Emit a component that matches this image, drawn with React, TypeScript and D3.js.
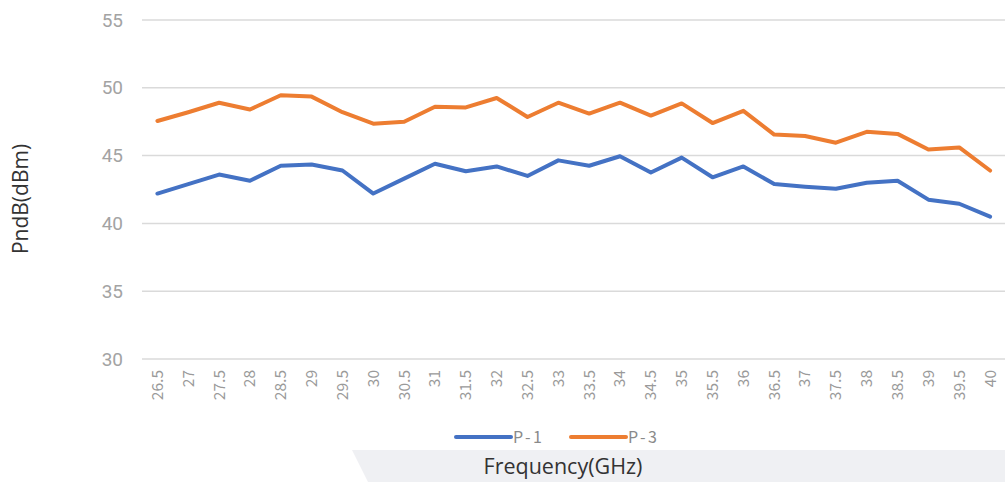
import React from "react";
import * as d3 from "d3";

const frequencies: string[] = [
  "26.5", "27", "27.5", "28", "28.5", "29", "29.5", "30", "30.5", "31",
  "31.5", "32", "32.5", "33", "33.5", "34", "34.5", "35", "35.5", "36",
  "36.5", "37", "37.5", "38", "38.5", "39", "39.5", "40",
];

const p1Values: number[] = [
  42.2, 42.9, 43.6, 43.15, 44.25, 44.35, 43.9, 42.2, 43.3, 44.4,
  43.85, 44.2, 43.5, 44.65, 44.25, 44.95, 43.75, 44.85, 43.4, 44.2,
  42.9, 42.7, 42.55, 43.0, 43.15, 41.75, 41.45, 40.5,
];

const p3Values: number[] = [
  47.55, 48.2, 48.9, 48.4, 49.45, 49.35, 48.2, 47.35, 47.5, 48.6,
  48.55, 49.25, 47.85, 48.9, 48.1, 48.9, 47.95, 48.85, 47.4, 48.3,
  46.55, 46.45, 45.95, 46.75, 46.6, 45.45, 45.6, 43.9,
];

const yTicks: number[] = [30, 35, 40, 45, 50, 55];

const seriesNames: string[] = ["P-1", "P-3"];
const seriesColors: string[] = ["#4472C4", "#ED7D31"];

const W = 1005;
const H = 482;

export default function App() {
  const x = d3.scaleBand<string>().domain(frequencies).range([142, 1005.5]).padding(0);
  const y = d3.scaleLinear().domain([30, 55]).range([359, 20]);
  const cx = (f: string) => (x(f) as number) + x.bandwidth() / 2;

  const line = d3
    .line<number>()
    .x((_, i) => cx(frequencies[i]))
    .y((d) => y(d));

  const series = [p1Values, p3Values];

  return (
    <div style={{ position: "fixed", left: 0, top: 0 }}>
      <svg width={W} height={H} style={{ display: "block", background: "#fff" }}>
        {/* bottom gray band */}
        <polygon points={`352,450 ${W},450 ${W},${H} 368,${H}`} fill="#eff0f3" />
        {/* grid lines */}
        {yTicks.map((t) => (
          <line key={t} x1={142} x2={W} y1={y(t)} y2={y(t)} stroke="#dadada" strokeWidth={1.5} />
        ))}
        {/* y tick labels */}
        {yTicks.map((t) => (
          <text
            key={"l" + t}
            x={123}
            y={y(t)}
            dy="0.35em"
            textAnchor="end"
            fontFamily="Roboto, 'Open Sans', sans-serif"
            fontSize={19}
            fill="#a3a3a3"
          >
            {t}
          </text>
        ))}
        {/* x tick labels */}
        {frequencies.map((f) => (
          <text
            key={"x" + f}
            transform={`translate(${cx(f)},370) rotate(-90)`}
            textAnchor="end"
            dy="0.35em"
            fontFamily="'Noto Sans CJK SC', Roboto, sans-serif"
            fontSize={15.5}
            fill="#9a9a9a"
          >
            {f}
          </text>
        ))}
        {/* lines */}
        {series.map((s, i) => (
          <path
            key={seriesNames[i]}
            d={line(s) as string}
            fill="none"
            stroke={seriesColors[i]}
            strokeWidth={4}
            strokeLinejoin="round"
            strokeLinecap="round"
          />
        ))}
        {/* legend */}
        {seriesNames.map((n, i) => {
          const lx = 456 + i * 115;
          return (
            <g key={"lg" + n}>
              <line x1={lx} x2={lx + 55} y1={437} y2={437} stroke={seriesColors[i]} strokeWidth={4} strokeLinecap="round" />
              <text
                x={lx + 57}
                y={437}
                dy="0.35em"
                fontFamily="'Noto Sans CJK SC', Roboto, sans-serif"
                fontSize={16}
                letterSpacing={2.5}
                fill="#8a8a8a"
              >
                {n}
              </text>
            </g>
          );
        })}
        {/* axis titles */}
        <text
          x={563}
          y={474}
          textAnchor="middle"
          fontFamily="'Open Sans', sans-serif"
          fontSize={21.5}
          fill="#333"
        >
          Frequency(GHz)
        </text>
        <text
          transform={`translate(28,199) rotate(-90)`}
          textAnchor="middle"
          fontFamily="'Open Sans', sans-serif"
          fontSize={21}
          fill="#333"
        >
          PndB(dBm)
        </text>
      </svg>
    </div>
  );
}
